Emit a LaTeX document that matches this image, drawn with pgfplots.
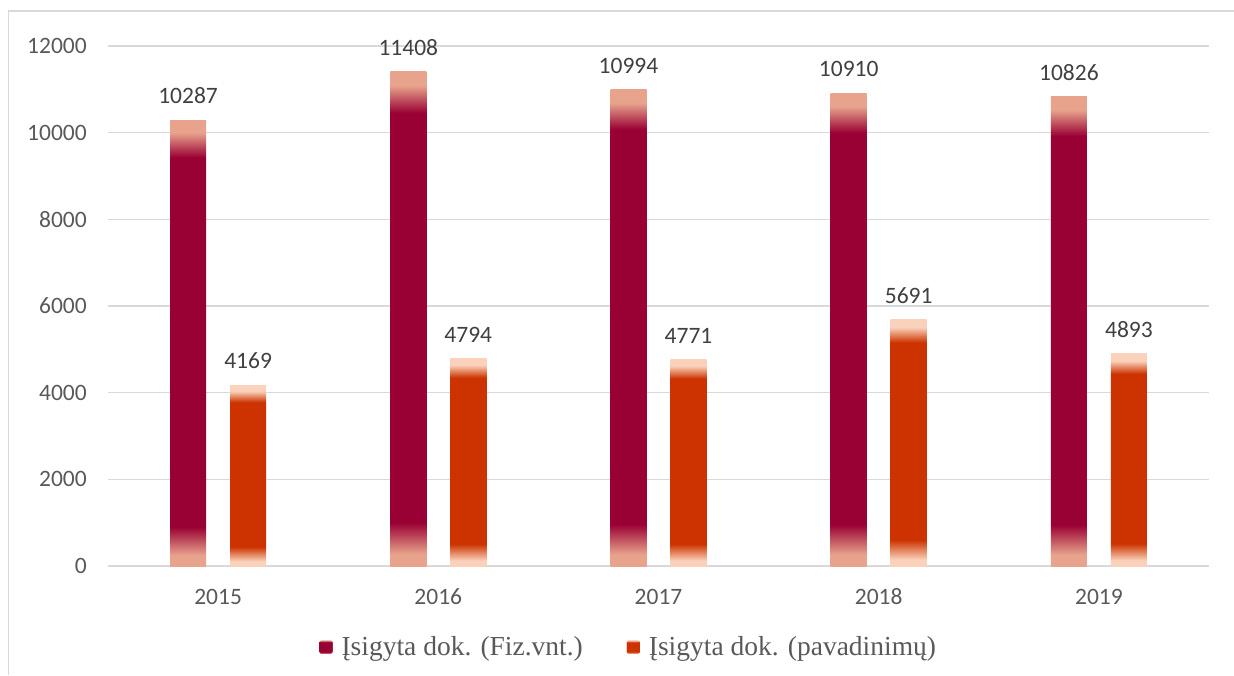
\documentclass[border=0pt]{standalone}
\usepackage{fontspec}
\setmainfont{Carlito}
\newfontfamily\legendfont{Liberation Serif}
\usepackage{pgfplots}
\pgfplotsset{compat=1.18}

\definecolor{fiz}{RGB}{153,0,51}
\definecolor{fizlight}{RGB}{232,163,140}
\definecolor{pav}{RGB}{204,51,0}
\definecolor{pavlight}{RGB}{250,210,188}
\definecolor{gridc}{RGB}{217,217,217}
\definecolor{ticktext}{RGB}{89,89,89}
\definecolor{labeltext}{RGB}{64,64,64}

% each bar maps onto 25bp..75bp of the shading
\pgfdeclareverticalshading{fizshade}{100bp}{color(0bp)=(fizlight); color(26.2bp)=(fizlight); color(29.4bp)=(fiz); color(70.8bp)=(fiz); color(73.6bp)=(fizlight); color(100bp)=(fizlight)}
\pgfdeclareverticalshading{pavshade}{100bp}{color(0bp)=(pavlight); color(26.3bp)=(pavlight); color(30.3bp)=(pav); color(70.3bp)=(pav); color(73.4bp)=(pavlight); color(100bp)=(pavlight)}

\pgfplotsset{
  fizbar/.style={ybar, bar width=36pt, bar shift=-30pt, draw=none, shading=fizshade,
    every node near coord/.append style={xshift=-30pt},
    legend image code/.code={\fill[fiz, rounded corners=2pt] (0pt,-6.5pt) rectangle (13pt,6.5pt);}},
  pavbar/.style={ybar, bar width=36pt, bar shift=30pt, draw=none, shading=pavshade,
    every node near coord/.append style={xshift=30pt},
    legend image code/.code={\fill[pav, rounded corners=2pt] (0pt,-6.5pt) rectangle (13pt,6.5pt);}},
}

\begin{document}
\begin{tikzpicture}[x=1pt,y=1pt]
\path[use as bounding box] (0,0) rectangle (1234,675);
\draw[gridc, line width=1.5pt] (8.5,0) -- (8.5,664) -- (1234,664);
\begin{axis}[
    at={(108pt,109pt)}, anchor=south west,
    scale only axis,
    width=1101pt, height=520pt,
    xmin=-0.5, xmax=4.5,
    ymin=0, ymax=12000,
    ytick={0,2000,...,12000},
    xtick={0,1,2,3,4},
    xticklabels={2015,2016,2017,2018,2019},
    major tick length=0pt,
    axis line style={draw=none},
    ymajorgrids,
    grid style={gridc, line width=1.3pt},
    scaled ticks=false,
    /pgf/number format/assume math mode=true,
    /pgf/number format/1000 sep={},
    yticklabel={\pgfmathprintnumber[fixed]{\tick}},
    tick label style={font=\fontsize{23.5}{28}\selectfont, text=ticktext},
    y tick label style={inner sep=0pt, xshift=-21pt},
    x tick label style={inner sep=0pt, text height=15pt, text depth=0pt, yshift=-23pt},
    nodes near coords,
    every node near coord/.append style={font=\fontsize{23.5}{28}\selectfont, text=labeltext,
        inner sep=0pt, anchor=south, yshift=16pt},
    legend columns=2,
    legend style={at={(0.473,-0.156)}, anchor=center, draw=none, fill=none,
        font=\legendfont\fontsize{27.5}{32}\selectfont, text=ticktext,
        /tikz/every odd column/.append style={column sep=7pt},
        /tikz/every even column/.append style={column sep=42pt}},
]
% Įsigyta dok. (Fiz.vnt.)
\addplot[fizbar] coordinates {(0,10287)};
\addlegendentry{Įsigyta dok. (Fiz.vnt.)}
% Įsigyta dok. (pavadinimų)
\addplot[pavbar] coordinates {(0,4169)};
\addlegendentry{Įsigyta dok. (pavadinimų)}
\addplot[fizbar, forget plot] coordinates {(1,11408)};
\addplot[fizbar, forget plot] coordinates {(2,10994)};
\addplot[fizbar, forget plot] coordinates {(3,10910)};
\addplot[fizbar, forget plot] coordinates {(4,10826)};
\addplot[pavbar, forget plot] coordinates {(1,4794)};
\addplot[pavbar, forget plot] coordinates {(2,4771)};
\addplot[pavbar, forget plot] coordinates {(3,5691)};
\addplot[pavbar, forget plot] coordinates {(4,4893)};
\end{axis}
\end{tikzpicture}
\end{document}
